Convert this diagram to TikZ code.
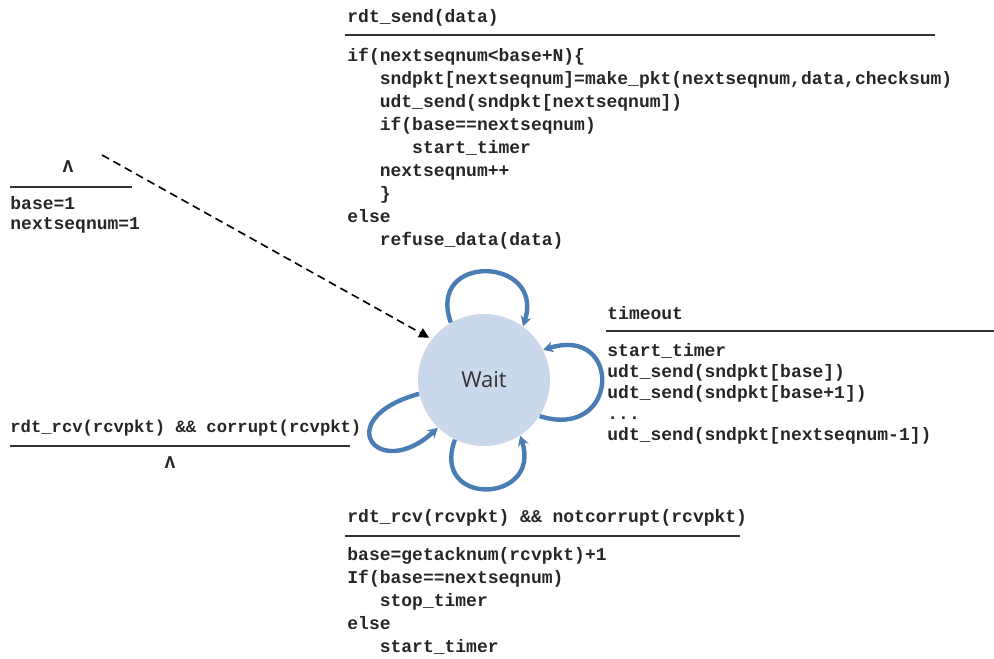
\documentclass[tikz,border=0pt]{standalone}
\usepackage{fontspec}
\setmonofont{Liberation Mono}
\newfontfamily\waitfont{Open Sans}
\usepackage{xcolor}
\usetikzlibrary{arrows.meta,positioning}

\definecolor{waitfill}{RGB}{201,216,234}
\definecolor{loopblue}{RGB}{74,125,180}
\newcommand{\indt}{\hspace*{1.8em}}

\begin{document}
\begin{tikzpicture}[
    x=0.5pt, y=-0.5pt, >=Stealth,
    state/.style={circle, fill=waitfill, minimum size=66pt, inner sep=0pt,
                  font=\waitfont\fontsize{11}{13}\selectfont, text=black!80},
    code/.style={font=\ttfamily\bfseries\fontsize{9}{#1}\selectfont,
                 align=left, inner sep=0pt, anchor=north west, text=black!85},
    code/.default=11.5pt,
    evt/.style={font=\ttfamily\bfseries\fontsize{9}{11}\selectfont,
                inner sep=0pt, anchor=west, text=black!85},
    bar/.style={line width=1pt, draw=black!80},
    selfloop/.style={-{Stealth[length=5pt,width=5.5pt]}, line width=2.2pt, draw=loopblue},
    initarr/.style={-{Triangle[length=5pt,width=5pt]}, line width=0.8pt,
                    dash pattern=on 4pt off 2.5pt, shorten >=1.5pt}
]
\useasboundingbox (0,0) rectangle (994,658);

% The one state
\node[state] (wait) at (484,380) {Wait};

% Initial transition
\coordinate (start) at (102,155);
\draw[initarr] (start) -- (wait.142);

\node[evt, anchor=center] (initevt) at (68,167) {Λ};
\draw[bar] (10,187) -- (132,187);
\node[code=10pt] (initact) at (10,196) {base=1\\nextseqnum=1};

% Self loops
\draw[selfloop] (wait.120) .. controls +(-25,-70) and +(22,-70) .. (wait.54);
\draw[selfloop] (wait.-33) .. controls +(80,25) and +(80,-25) .. (wait.27);
\draw[selfloop] (wait.-116) .. controls +(-25,68) and +(22,68) .. (wait.-57);
\draw[selfloop] (wait.192) .. controls +(-90,25) and +(-60,55) .. (wait.226);

% rdt_send
\node[evt] (sendevt) at (347,18) {rdt\_send(data)};
\draw[bar] (345,35) -- (935,35);
\node[code] (sendact) at (347,48) {if(nextseqnum<base+N)\{\\
\indt sndpkt[nextseqnum]=make\_pkt(nextseqnum,data,checksum)\\
\indt udt\_send(sndpkt[nextseqnum])\\
\indt if(base==nextseqnum)\\
\indt\indt start\_timer\\
\indt nextseqnum++\\
\indt \}\\
else\\
\indt refuse\_data(data)};

% timeout
\node[evt] (toevt) at (607,313) {timeout};
\draw[bar] (606,331) -- (994,331);
\node[code=10.5pt] (toact) at (607,343) {start\_timer\\
udt\_send(sndpkt[base])\\
udt\_send(sndpkt[base+1])\\
...\\
udt\_send(sndpkt[nextseqnum-1])};

% corrupt ack
\node[evt, font=\ttfamily\bfseries\fontsize{8.6}{11}\selectfont] (corevt) at (10,428)
    {rdt\_rcv(rcvpkt) \&\& corrupt(rcvpkt)};
\draw[bar] (10,446) -- (350,446);
\node[evt, anchor=center] (coract) at (170,463) {Λ};

% good ack
\node[evt] (ackevt) at (347,518) {rdt\_rcv(rcvpkt) \&\& notcorrupt(rcvpkt)};
\draw[bar] (345,536) -- (740,536);
\node[code] (ackact) at (347,547) {base=getacknum(rcvpkt)+1\\
If(base==nextseqnum)\\
\indt stop\_timer\\
else\\
\indt start\_timer};
\end{tikzpicture}
\end{document}
